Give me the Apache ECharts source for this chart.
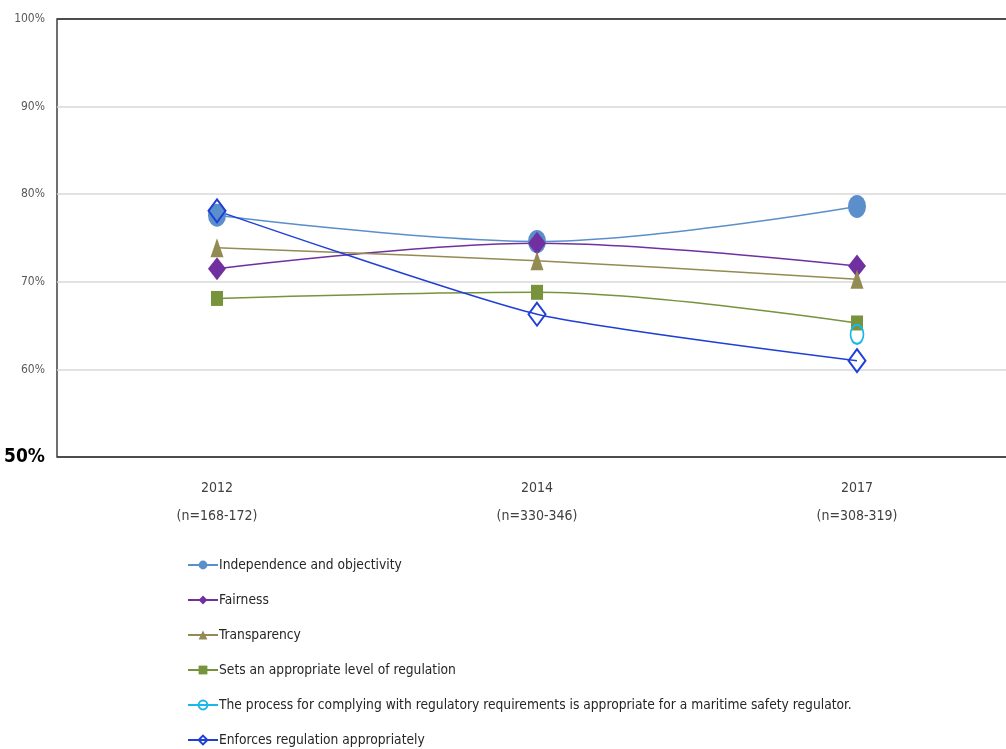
<!DOCTYPE html>
<html>
<head>
<meta charset="utf-8">
<script src="https://cdn.jsdelivr.net/npm/echarts@6/dist/echarts.min.js"></script>
<style>
html,body{margin:0;padding:0;background:#fff;}
#chart{width:1006px;height:749px;}
</style>
</head>
<body>
<div id="chart"></div>
<script>
var categories = ['2012\n(n=168-172)', '2014\n(n=330-346)', '2017\n(n=308-319)'];
var seriesNames = [
  'Independence and objectivity',
  'Fairness',
  'Transparency',
  'Sets an appropriate level of regulation',
  'The process for complying with regulatory requirements is appropriate for a maritime safety regulator.',
  'Enforces regulation appropriately'
];
var independence = [77.6, 74.6, 78.6];
var fairness = [71.5, 74.4, 71.8];
var transparency = [73.9, 72.4, 70.3];
var setsLevel = [68.1, 68.8, 65.3];
var processCompliance = [null, null, 64.0];
var enforces = [78.1, 66.3, 61.0];
var yTicks = [50, 60, 70, 80, 90, 100];

var FONT = "'Liberation Sans Narrow', 'DejaVu Sans Condensed', 'Arial Narrow', sans-serif";

var chart = echarts.init(document.getElementById('chart'), null, {renderer: 'canvas'});

function lineSeries(name, data, color, symbol, size, filled, smooth) {
  return {
    name: name,
    type: 'line',
    data: data,
    smooth: smooth,
    symbol: symbol,
    symbolSize: size,
    showAllSymbol: true,
    lineStyle: {color: color, width: 1.5},
    itemStyle: filled ? {color: color} : {color: 'rgba(255,255,255,0)', borderColor: color, borderWidth: 2},
    emphasis: {disabled: true},
    z: 2
  };
}

chart.setOption({
  animation: false,
  backgroundColor: '#fff',
  grid: {
    left: 57, top: 19, height: 438, width: 960,
    outerBoundsMode: 'none',
    containLabel: false,
    show: true, borderColor: '#404040', borderWidth: 1.5, backgroundColor: 'transparent'
  },
  legend: {
    orient: 'vertical',
    left: 187,
    top: 558,
    padding: 0,
    itemWidth: 30,
    itemHeight: 11,
    itemGap: 21,
    data: seriesNames,
    textStyle: {fontFamily: FONT, fontSize: 13.7, lineHeight: 14, color: '#262626', padding: [0, 0, 0, -4]}
  },
  xAxis: {
    type: 'category',
    data: categories,
    boundaryGap: true,
    axisLine: {show: false},
    axisTick: {show: false},
    axisLabel: {
      margin: 17,
      fontFamily: FONT, fontSize: 14, color: '#404040', lineHeight: 28
    },
    splitLine: {show: false}
  },
  yAxis: {
    type: 'value',
    min: 50, max: 100, interval: 10,
    axisLine: {show: false},
    axisTick: {show: false},
    splitLine: {show: true, lineStyle: {color: ['#404040', '#d9d9d9', '#d9d9d9', '#d9d9d9', '#d9d9d9', '#404040'], width: 1.5}},
    axisLabel: {
      margin: 12,
      fontFamily: FONT,
      formatter: function (v) {
        return v === yTicks[0] ? '{big|' + v + '%}' : '{sm|' + v + '%}';
      },
      rich: {
        sm: {fontFamily: FONT, fontSize: 12, color: '#595959'},
        big: {fontFamily: FONT, fontSize: 19, fontWeight: 'bold', color: '#000'}
      }
    }
  },
  series: [
    lineSeries(seriesNames[0], independence, '#5b8fcb', 'circle', [18, 23], true, 0.35),
    lineSeries(seriesNames[1], fairness, '#7030a0', 'diamond', [18, 23], true, 0.35),
    lineSeries(seriesNames[2], transparency, '#948a54', 'triangle', [13, 19], true, 0.35),
    lineSeries(seriesNames[3], setsLevel, '#77933c', 'rect', [12, 15], true, 0.35),
    lineSeries(seriesNames[4], processCompliance, '#1ab7ea', 'circle', [13, 19], false, 0.35),
    lineSeries(seriesNames[5], enforces, '#1f3fd6', 'diamond', [17, 23], false, 0.2)
  ]
});
</script>
</body>
</html>
